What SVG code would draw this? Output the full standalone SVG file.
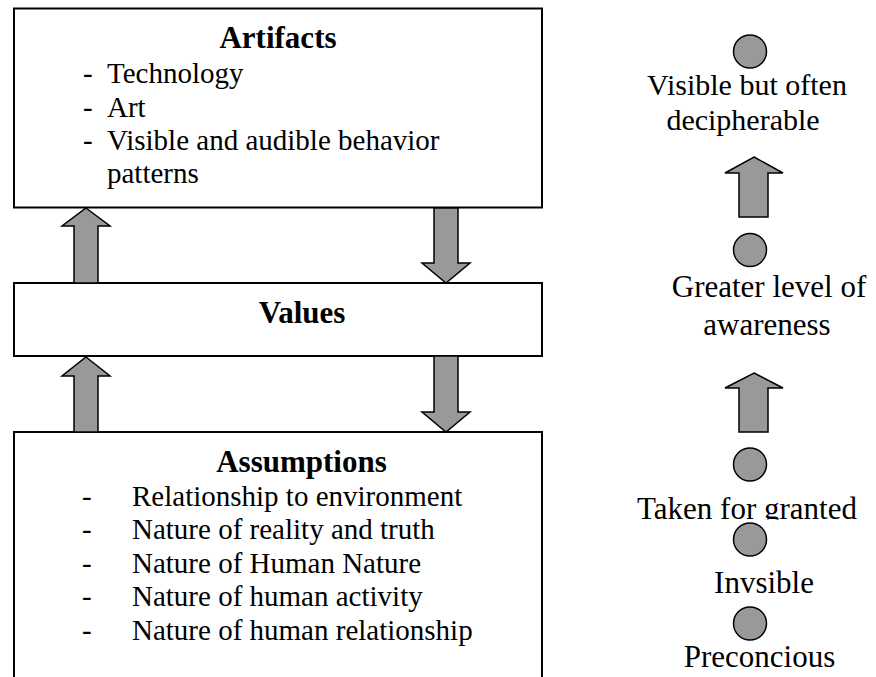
<svg xmlns="http://www.w3.org/2000/svg" width="876" height="677" viewBox="0 0 876 677" font-family="'Liberation Serif', 'Times New Roman', Times, serif">
<style>
.box{fill:#fff;stroke:#000;stroke-width:2}
.arr{fill:#999;stroke:#000;stroke-width:1.5;stroke-linejoin:miter}
.dot{fill:#999;stroke:#000;stroke-width:1.5}
.h{font-size:31px;font-weight:bold;text-anchor:middle}
.t{font-size:29px}
.r{font-size:31px;text-anchor:middle}
.rs{font-size:30px;text-anchor:middle}
</style>
<defs>
<clipPath id="cl"><rect x="0" y="0" width="876" height="519.5"/><rect x="0" y="0" width="742" height="677"/></clipPath>
</defs>
<rect width="876" height="677" fill="#fff"/>
<g id="artifacts">
<rect class="box" x="14" y="8.5" width="528" height="199"/>
<text class="h" x="278" y="48">Artifacts</text>
<text class="t" x="83" y="83">-</text><text class="t" x="107" y="83">Technology</text>
<text class="t" x="83" y="117">-</text><text class="t" x="107" y="117">Art</text>
<text class="t" x="83" y="150">-</text><text class="t" x="107" y="150">Visible and audible behavior</text>
<text class="t" x="107" y="183">patterns</text>
</g>
<g id="values">
<rect class="box" x="14" y="283" width="528" height="73"/>
<text class="h" x="302" y="323">Values</text>
</g>
<g id="assumptions">
<rect class="box" x="14" y="432" width="528" height="260"/>
<text class="h" x="301.5" y="472">Assumptions</text>
<text class="t" x="82" y="506">-</text><text class="t" x="132" y="506">Relationship to environment</text>
<text class="t" x="82" y="539">-</text><text class="t" x="132" y="539">Nature of reality and truth</text>
<text class="t" x="82" y="573">-</text><text class="t" x="132" y="573">Nature of Human Nature</text>
<text class="t" x="82" y="606">-</text><text class="t" x="132" y="606">Nature of human activity</text>
<text class="t" x="82" y="640">-</text><text class="t" x="132" y="640">Nature of human relationship</text>
</g>
<g id="connectors">
<polygon class="arr" points="86,208 110,226 98,226 98,283 74,283 74,226 62,226"/>
<polygon class="arr" points="434,208 458,208 458,263 470,263 446,283 422,263 434,263"/>
<polygon class="arr" points="86,357 110,376 98,376 98,432 74,432 74,376 62,376"/>
<polygon class="arr" points="434,356 458,356 458,412 470,412 446,432 422,412 434,412"/>
<polygon class="arr" points="754,157 783,173 768,173 768,217 739,217 739,173 725,173"/>
<polygon class="arr" points="754,373 783,388 768,388 768,432 739,432 739,388 725,388"/>
</g>
<g id="level-visible">
<circle class="dot" cx="750" cy="51.5" r="16.5"/>
<text class="rs" x="747" y="95">Visible but often</text>
<text class="rs" x="743" y="130">decipherable</text>
</g>
<g id="level-awareness">
<circle class="dot" cx="750" cy="250" r="16.5"/>
<text class="r" x="769" y="297">Greater level of</text>
<text class="r" x="767" y="335">awareness</text>
</g>
<g id="level-granted">
<circle class="dot" cx="750" cy="464.5" r="16.5"/>
<text class="r" x="747" y="519" clip-path="url(#cl)">Taken for granted</text>
</g>
<g id="level-invisible">
<circle class="dot" cx="750" cy="539.5" r="16.5"/>
<text class="r" x="764" y="593">Invsible</text>
</g>
<g id="level-preconscious">
<circle class="dot" cx="750" cy="623.5" r="16.5"/>
<text class="r" x="759.5" y="667">Preconcious</text>
</g>
</svg>
